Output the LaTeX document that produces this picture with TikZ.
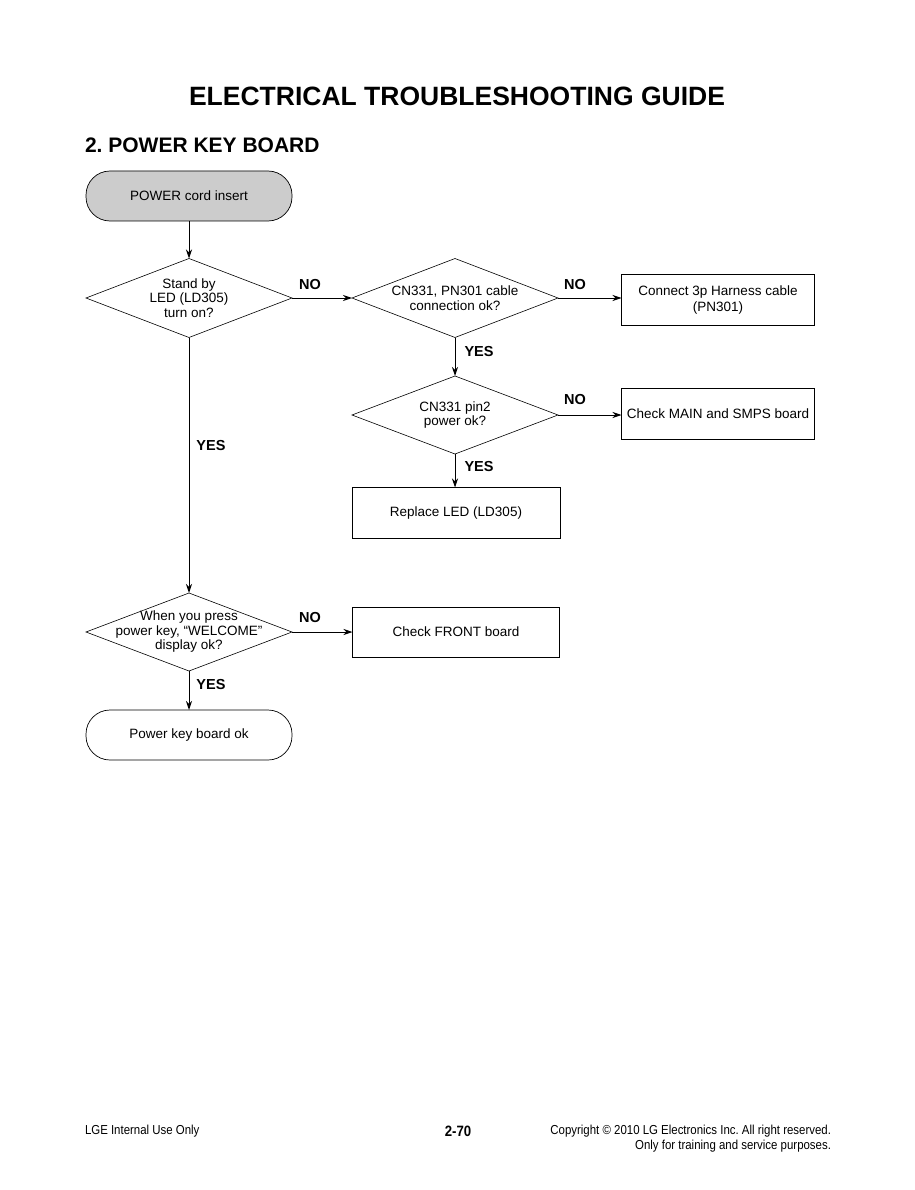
\documentclass[tikz,border=0pt]{standalone}
\usepackage{fontspec}
\setmainfont{Liberation Sans}
\newfontfamily\footfont[FakeStretch=0.88]{Liberation Sans}
\usetikzlibrary{shapes.geometric,arrows.meta}
\frenchspacing
\begin{document}
\begin{tikzpicture}[x=1pt,y=-1pt,
 every node/.style={inner sep=0pt,outer sep=0pt},
 term/.style={draw,line width=0.7pt,rounded corners=24pt,minimum width=206pt,minimum height=50pt,font=\fontsize{13.5}{15}\selectfont},
 dia/.style={draw,diamond,line width=0.6pt,minimum width=206pt,minimum height=79pt},
 dtext/.style={align=center,font=\fontsize{13.5}{14.5}\selectfont},
 box/.style={draw,rectangle,line width=0.7pt,minimum width=193pt,minimum height=51pt,align=center,font=\fontsize{13.5}{16}\selectfont},
 lab/.style={font=\fontsize{14.5}{16}\selectfont\bfseries},
 arr/.style={-{Stealth[length=9pt,width=6pt]},line width=1pt},
]
\useasboundingbox (0,0) rectangle (914,1190);
\fill[white] (0,0) rectangle (914,1190);

% headings
\node[font=\fontsize{26.5}{30}\selectfont\bfseries] (title) at (457,96) {ELECTRICAL TROUBLESHOOTING GUIDE};
\node[anchor=west,font=\fontsize{21}{24}\selectfont\bfseries] (sect) at (85,145) {2. POWER KEY BOARD};

% nodes
\node[term,fill=black!20] (start) at (189,196) {POWER cord insert};
\node[dia,label={[dtext]center:{Stand by\\LED (LD305)\\turn on?}}] (d1) at (189,298) {};
\node[dia,label={[dtext]center:{CN331, PN301 cable\\connection ok?}}] (d2) at (455,298) {};
\node[box] (b1) at (718,300) {Connect 3p Harness cable\\(PN301)};
\node[dia,minimum height=78pt,label={[dtext]center:{CN331 pin2\\power ok?}}] (d3) at (455,415) {};
\node[box] (b2) at (718,414) {Check MAIN and SMPS board};
\node[box,minimum width=208pt] (b3) at (456,513) {Replace LED (LD305)};
\node[dia,minimum height=78pt,label={[dtext]center:{When you press\\power key, \textquotedblleft WELCOME\textquotedblright\\display ok?}}] (d4) at (189,632) {};
\node[box,minimum width=207pt,minimum height=50pt] (b4) at (456,632) {Check FRONT board};
\node[term] (end) at (189,735) {Power key board ok};

% connectors
\draw[arr] (start.south) -- (d1.north);
\draw[arr] (d1.east) -- (d2.west);
\draw[arr] (d2.east) -- (b1.west |- d2.east);
\draw[arr] (d2.south) -- (d3.north);
\draw[arr] (d3.east) -- (b2.west |- d3.east);
\draw[arr] (d3.south) -- (b3.north -| d3.south);
\draw[arr] (d1.south) -- (d4.north);
\draw[arr] (d4.east) -- (b4.west);
\draw[arr] (d4.south) -- (end.north);

% labels
\node[lab] (n1) at (310,285) {NO};
\node[lab] (n2) at (575,285) {NO};
\node[lab] (n3) at (575,400) {NO};
\node[lab] (n4) at (310,618) {NO};
\node[lab] (y1) at (211,446) {YES};
\node[lab] (y2) at (479,352) {YES};
\node[lab] (y3) at (479,467) {YES};
\node[lab] (y4) at (211,685) {YES};

% footer
\node[anchor=west,font=\footfont\fontsize{13}{15}\selectfont] (f1) at (85,1131) {LGE Internal Use Only};
\node[font=\footfont\fontsize{15}{17}\selectfont\bfseries] (f2) at (458,1131) {2-70};
\node[anchor=east,font=\footfont\fontsize{13}{15}\selectfont] (f3) at (831,1131) {Copyright \textcopyright\ 2010 LG Electronics Inc. All right reserved.};
\node[anchor=east,font=\footfont\fontsize{13}{15}\selectfont] (f4) at (831,1146) {Only for training and service purposes.};
\end{tikzpicture}
\end{document}
